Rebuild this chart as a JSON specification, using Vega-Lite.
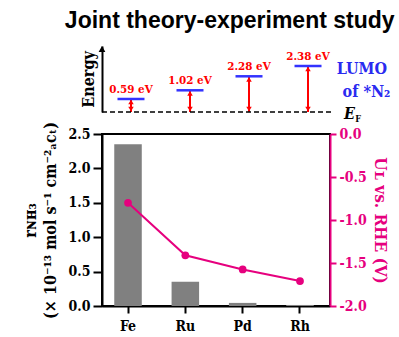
{
  "$schema": "https://vega.github.io/schema/vega-lite/v6.json",
  "background": "white",
  "padding": {"left": 21, "top": 10, "right": 5, "bottom": 2},
  "bounds": "flush",
  "title": {"text": "Joint theory-experiment study", "font": "Liberation Sans", "fontSize": 23, "fontWeight": "bold", "color": "black", "anchor": "middle", "offset": 13, "dx": 24},
  "config": {
    "font": "DejaVu Serif Condensed, DejaVu Serif, serif",
    "axis": {"grid": false, "labelFontWeight": "bold", "titleFontWeight": "bold", "labelFont": "DejaVu Serif Condensed, DejaVu Serif, serif", "titleFont": "DejaVu Serif Condensed, DejaVu Serif, serif"}
  },
  "spacing": 22,
  "vconcat": [
    {
      "width": 228,
      "height": 66,
      "view": {"stroke": null},
      "layer": [
        {
          "data": {"values": [
            {"metal": "Fe", "ef": 0, "e": 13, "gap": "0.59 eV"},
            {"metal": "Ru", "ef": 0, "e": 21.7, "gap": "1.02 eV"},
            {"metal": "Pd", "ef": 0, "e": 35.7, "gap": "2.28 eV"},
            {"metal": "Rh", "ef": 0, "e": 46, "gap": "2.38 eV"}
          ]},
          "encoding": {
            "x": {"field": "metal", "type": "nominal", "sort": null, "scale": {"paddingInner": 0.5, "paddingOuter": 0.182, "align": 0.663}, "axis": null}
          },
          "layer": [
            {"mark": {"type": "rule", "color": "#ff0000", "strokeWidth": 2},
             "encoding": {"y": {"field": "ef", "type": "quantitative", "scale": {"domain": [0, 66], "nice": false, "zero": false}, "axis": {"title": "Energy", "labels": false, "ticks": false, "domainColor": "black", "domainWidth": 2, "titleFontSize": 16, "titleColor": "black", "titlePadding": 6}}, "y2": {"field": "e"}}},
            {"mark": {"type": "point", "shape": "triangle-up", "filled": true, "color": "#ff0000", "opacity": 1, "size": 30, "yOffset": 3},
             "encoding": {"y": {"field": "e", "type": "quantitative"}}},
            {"mark": {"type": "point", "shape": "triangle-down", "filled": true, "color": "#ff0000", "opacity": 1, "size": 30, "yOffset": -3},
             "encoding": {"y": {"field": "ef", "type": "quantitative"}}},
            {"mark": {"type": "tick", "orient": "horizontal", "color": "#3333ff", "size": 27, "thickness": 2.5, "opacity": 1},
             "encoding": {"y": {"field": "e", "type": "quantitative"}}},
            {"mark": {"type": "text", "color": "#ff0000", "fontWeight": "bold", "fontSize": 11.5, "baseline": "bottom", "dy": -4},
             "encoding": {"y": {"field": "e", "type": "quantitative"}, "text": {"field": "gap"}}}
          ]
        },
        {
          "layer": [
            {"data": {"values": [{"xs": 0, "xe": 1.01, "yb": 0}]},
             "mark": {"type": "rule", "color": "black", "strokeWidth": 1.5, "strokeDash": [5, 3]},
             "encoding": {"x": {"field": "xs", "type": "quantitative", "scale": {"domain": [0, 1], "nice": false, "zero": false}, "axis": null}, "x2": {"field": "xe"}, "y": {"field": "yb", "type": "quantitative"}}},
            {"data": {"values": [{"xs": 0, "yt": 66}]},
             "mark": {"type": "point", "shape": "triangle-up", "filled": true, "color": "black", "opacity": 1, "size": 45, "yOffset": 3},
             "encoding": {"x": {"field": "xs", "type": "quantitative", "axis": null}, "y": {"field": "yt", "type": "quantitative"}}},
            {"data": {"values": [
                {"label": "LUMO", "xq": 1.14, "yq": 43},
                {"label": "of *N₂", "xq": 1.16, "yq": 20}
              ]},
             "mark": {"type": "text", "color": "#2a2af0", "fontWeight": "bold", "fontSize": 16},
             "encoding": {"x": {"field": "xq", "type": "quantitative", "axis": null}, "y": {"field": "yq", "type": "quantitative"}, "text": {"field": "label"}}},
            {"data": {"values": [{"label": "E", "xq": 1.085, "yq": -2}]},
             "mark": {"type": "text", "color": "black", "fontWeight": "bold", "fontStyle": "italic", "fontSize": 16},
             "encoding": {"x": {"field": "xq", "type": "quantitative", "axis": null}, "y": {"field": "yq", "type": "quantitative"}, "text": {"field": "label"}}},
            {"data": {"values": [{"label": "F", "xq": 1.123, "yq": -7}]},
             "mark": {"type": "text", "color": "black", "fontWeight": "bold", "fontSize": 9},
             "encoding": {"x": {"field": "xq", "type": "quantitative", "axis": null}, "y": {"field": "yq", "type": "quantitative"}, "text": {"field": "label"}}}
          ]
        }
      ],
      "resolve": {"scale": {"x": "independent"}}
    },
    {
      "width": 228,
      "height": 172,
      "view": {"stroke": "black", "strokeWidth": 2},
      "data": {"values": [
        {"metal": "Fe", "rate": 2.35, "ul": -0.80},
        {"metal": "Ru", "rate": 0.353, "ul": -1.41},
        {"metal": "Pd", "rate": 0.045, "ul": -1.575},
        {"metal": "Rh", "rate": 0.015, "ul": -1.71}
      ]},
      "encoding": {
        "x": {"field": "metal", "type": "nominal", "sort": null, "scale": {"paddingInner": 0.52, "paddingOuter": 0.2485, "align": 0.43},
              "axis": {"title": null, "labelAngle": 0, "labelFontSize": 14, "labelColor": "black", "labelPadding": 6, "tickSize": 7, "tickWidth": 2, "tickColor": "black", "domainColor": "black", "domainWidth": 2}}
      },
      "layer": [
        {"mark": {"type": "bar", "color": "#808080"},
         "encoding": {"y": {"field": "rate", "type": "quantitative", "scale": {"domain": [0, 2.5], "nice": false},
           "axis": {"title": ["rɴʜ₃", "(× 10⁻¹³ mol s⁻¹ cm⁻²ₐcₜ)"], "values": [0, 0.5, 1, 1.5, 2, 2.5], "format": ".1f", "domainColor": "black", "domainWidth": 2, "tickColor": "black", "tickWidth": 2, "tickSize": 9, "labelFontSize": 14, "labelColor": "black", "labelPadding": 3, "titleFontSize": 16, "titleColor": "black", "titlePadding": 10, "titleLineHeight": 20}}}},
        {"layer": [
          {"mark": {"type": "line", "color": "#e6007e", "strokeWidth": 2}},
          {"mark": {"type": "point", "filled": true, "color": "#e6007e", "opacity": 1, "size": 60}}
         ],
         "encoding": {"y": {"field": "ul", "type": "quantitative", "scale": {"domain": [-2, 0], "nice": false, "zero": false},
           "axis": {"orient": "right", "title": "Uʟ vs. RHE (V)", "titleAngle": 90, "values": [-2, -1.5, -1, -0.5, 0], "labelExpr": "replace(format(datum.value, '.1f'), '−', '-')", "domainColor": "#e6007e", "domainWidth": 2, "tickColor": "#e6007e", "tickWidth": 2, "tickSize": 6, "labelFontSize": 14, "labelColor": "#e6007e", "labelPadding": 3, "titleFontSize": 17, "titleColor": "#e6007e", "titlePadding": 4}}}}
      ],
      "resolve": {"scale": {"y": "independent"}}
    }
  ]
}
